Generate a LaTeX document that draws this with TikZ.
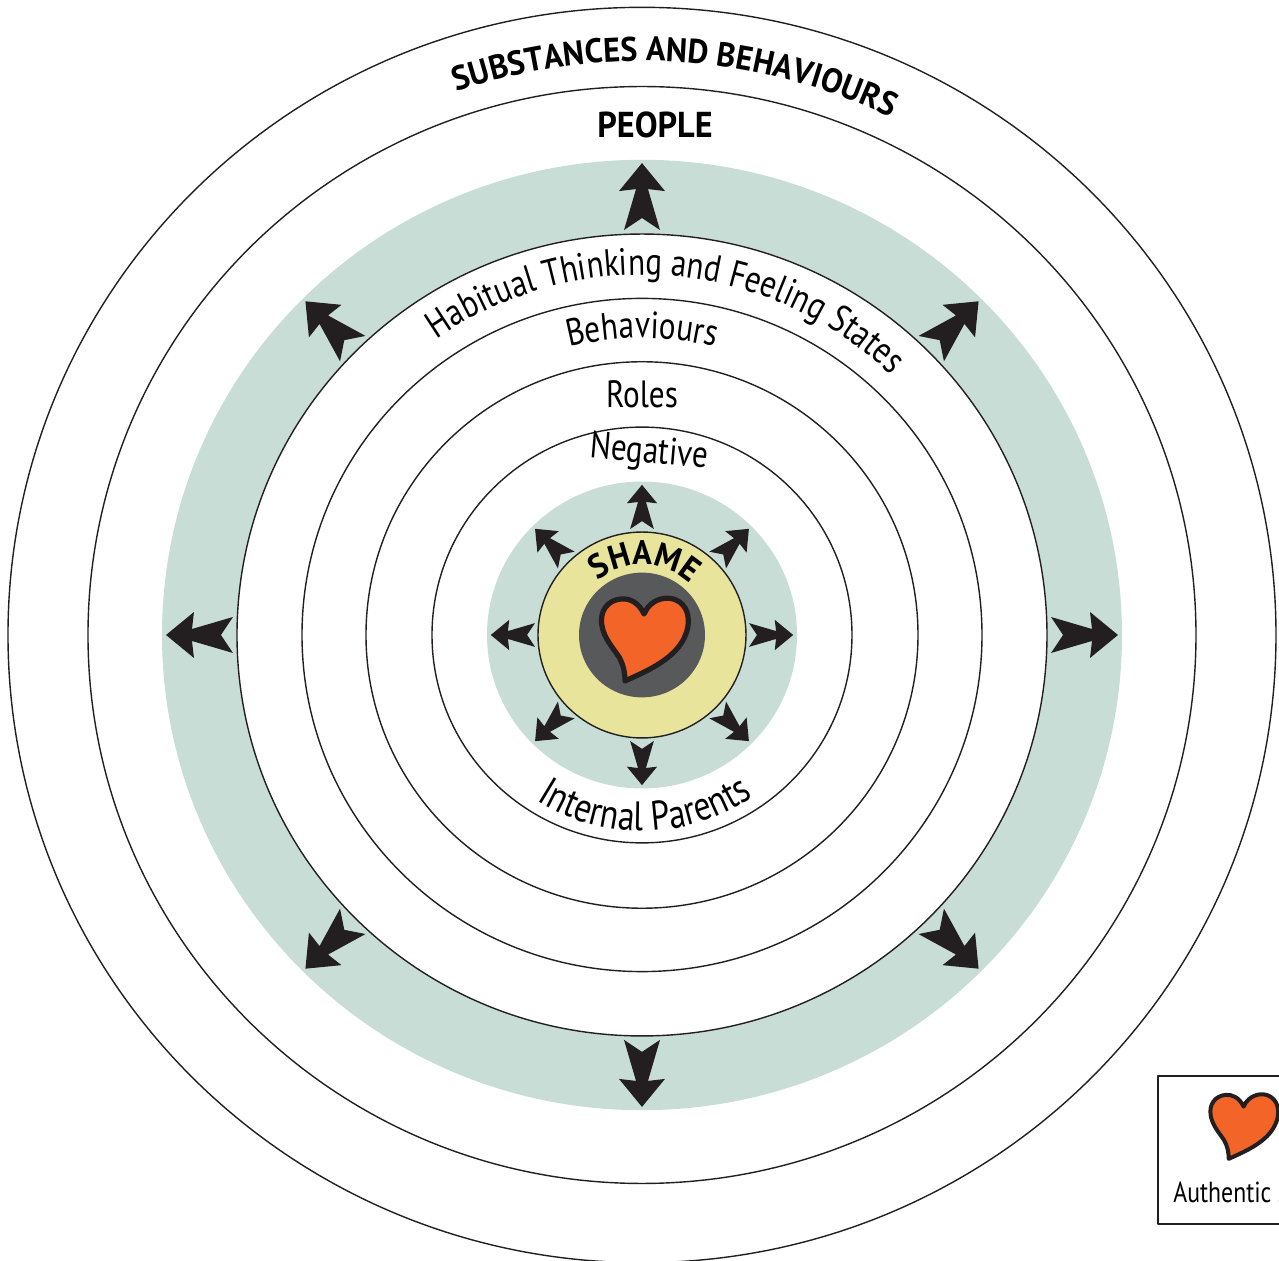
\documentclass[tikz,border=0pt]{standalone}
\usepackage{fontspec}
\setmainfont{PT Sans}[FakeStretch=0.82]
\newfontfamily\widebold{PT Sans}[FakeStretch=0.95]
\usetikzlibrary{decorations.text}
\definecolor{sage}{HTML}{C9DDD7}
\definecolor{straw}{HTML}{E8E49C}
\definecolor{slate}{HTML}{58595B}
\definecolor{heartorange}{HTML}{F26428}
\definecolor{ink}{HTML}{231F20}
\newcommand\ringfont{\fontsize{19}{21}\selectfont}
\newcommand\bandfont{\widebold\bfseries\fontsize{17}{19}\selectfont}
\newcommand\headfont{\widebold\bfseries\fontsize{18}{20}\selectfont}
\newcommand\shamefont{\widebold\bfseries\fontsize{17}{19}\selectfont}
\tikzset{
	ring/.style = {draw = ink, line width = .7pt},
	curved/.style = {decorate, decoration = {text along path, text align = center, text = {#1}}},
	pics/burst/.style = {code = {
		\fill[ink] (0,18) -- (12,0) -- (0,-18) -- (41,-6) -- (39,-23) -- (67,0) -- (39,23) -- (41,6) -- cycle;
	}},
	pics/heart/.style = {code = {
		\draw[draw = ink, fill = heartorange, line join = round]
		(2,21) .. controls (-3,32) and (-12,37) .. (-21,36)
		.. controls (-34,35) and (-43,24) .. (-40,9)
		.. controls (-38,-3) and (-29,-13) .. (-23,-22)
		.. controls (-19,-29) and (-17,-37) .. (-17,-46)
		.. controls (-2,-39) and (18,-31) .. (32,-17)
		.. controls (44,-5) and (49,10) .. (45,23)
		.. controls (41,34) and (30,39) .. (19,36)
		.. controls (11,34) and (5,28) .. (2,21) -- cycle;
	}}
}
\begin{document}
\begin{tikzpicture}[x = .5pt, y = .5pt, line join = round, font = \ringfont]
	\useasboundingbox (-642,-626) rectangle (637,635);
	\begin{scope}[yscale = .99]
	\fill[sage] (0,0) circle (480);
	\fill[white] (0,0) circle (405);
	\fill[sage] (0,0) circle (155);
	\foreach \r in {634,554,405,340,276,210}
	\draw[ring] (0,0) circle (\r);
	\draw[ring, fill = straw] (0,0) circle (104);
	\fill[slate] (0,0) circle (63);
	\foreach \a in {0,45,...,315}
	{\pic[rotate = \a] at (\a:409) {burst};
	\pic[rotate = \a, scale = .66] at (\a:107) {burst};}
	\end{scope}
	\pic[line width = 2.6pt] at (0,0) {heart};
	\path[curved = {|\bandfont|SUBSTANCES AND BEHAVIOURS}]
	(146.6:574) arc[start angle = 146.6, end angle = 26.6, radius = 574];
	\node[font = \headfont] (people) at (13,510.5) {PEOPLE};
	\path[curved = {|\ringfont|Habitual Thinking and Feeling States}]
	(145.5:360) arc[start angle = 145.5, end angle = 25.5, radius = 360];
	\path[curved = {|\ringfont|Behaviours}]
	(150:297) arc[start angle = 150, end angle = 30, radius = 297];
	\node[anchor = base] (roles) at (0,227) {Roles};
	\node[anchor = base, rotate = -5] (negative) at (6,172) {Negative};
	\path[curved = {|\fontsize{20.5}{22}\selectfont|Internal Parents}]
	(211:196) arc[start angle = 211, end angle = 331, radius = 196];
	\path[curved = {|\shamefont|SHAME}]
	(158:70) arc[start angle = 158, end angle = 18, radius = 70];
	\draw[ink, line width = .6pt] (516,-441) rectangle (660,-589);
	\pic[line width = 2pt, scale = .78] at (600,-488) {heart};
	\node[anchor = base west, inner sep = 0, font = \fontsize{14.5}{16}\selectfont] (authentic) at (531,-567) {Authentic self};
\end{tikzpicture}
\end{document}
